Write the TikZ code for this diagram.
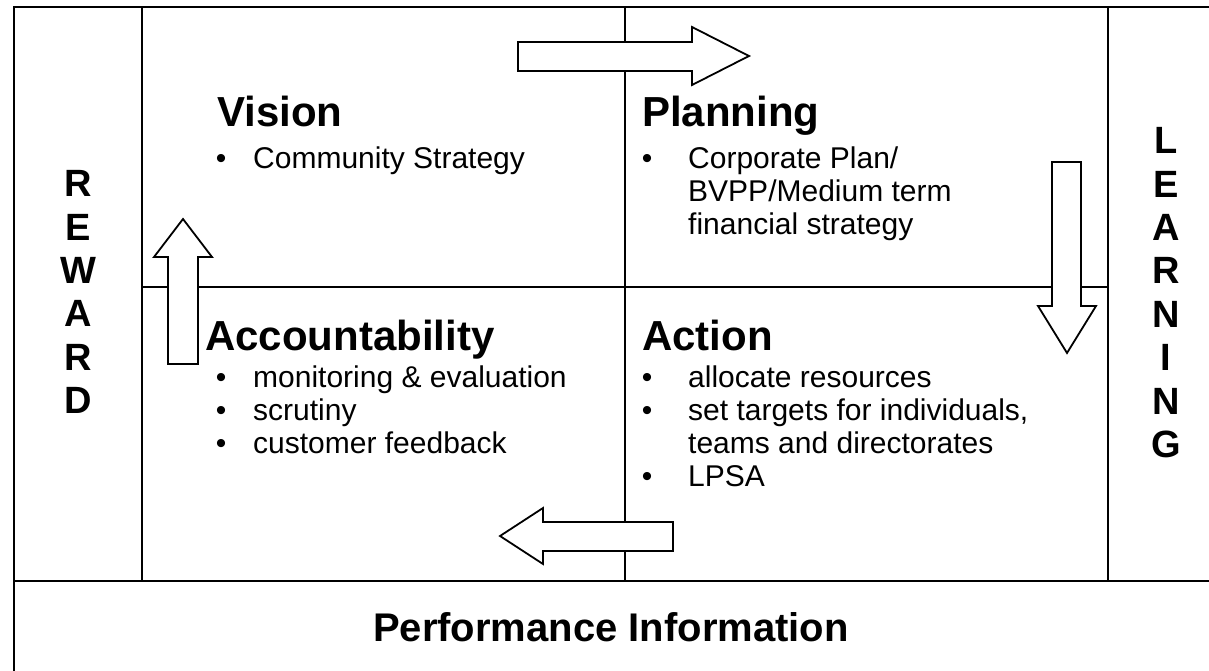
\documentclass[tikz,border=0pt]{standalone}
\usepackage{fontspec}
\setmainfont{Liberation Sans}
\begin{document}
\begin{tikzpicture}[x=1pt,y=-1pt,
  gridline/.style={line width=2.6pt,black},
  blockarrow/.style={draw=black,fill=white,line width=1.8pt,line join=miter},
  head/.style={anchor=base west,inner sep=0pt,font=\fontsize{42}{48}\selectfont\bfseries},
  side/.style={anchor=base,inner sep=0pt,font=\fontsize{38}{44}\selectfont\bfseries},
  bul/.style={anchor=base,inner sep=0pt,font=\fontsize{30}{33}\selectfont},
  item/.style={anchor=base west,inner sep=0pt,font=\fontsize{30}{33}\selectfont}]
\useasboundingbox (0,0) rectangle (1209,671);
\clip (0,0) rectangle (1209,671);
\fill[white] (0,0) rectangle (1209,671);
% frame and grid
\draw[gridline] (14,7) rectangle (1236,720);
\draw[gridline] (14,581) -- (1236,581);
\draw[gridline] (142,7) -- (142,581);
\draw[gridline] (1108,7) -- (1108,581);
\draw[gridline] (625,7) -- (625,581);
\draw[gridline] (142,287) -- (1108,287);
% block arrows
\draw[blockarrow] (518,42) -- (692,42) -- (692,27) -- (749,56) -- (692,85) -- (692,71) -- (518,71) -- cycle;
\draw[blockarrow] (1052,162) -- (1081,162) -- (1081,306) -- (1096,306) -- (1067,353) -- (1038,306) -- (1052,306) -- cycle;
\draw[blockarrow] (673,522) -- (543,522) -- (543,508) -- (500,536) -- (543,564) -- (543,551) -- (673,551) -- cycle;
\draw[blockarrow] (168,364) -- (168,257) -- (154,257) -- (183,219) -- (212,257) -- (198,257) -- (198,364) -- cycle;
% Vision
\node[head] (vision) at (217,127) {Vision};
\node[bul] (vb1) at (221,168) {•};
\node[item] (vt1) at (253,168) {Community Strategy};
% Planning
\node[head] (planning) at (642,127) {Planning};
\node[bul] (pb1) at (647,168) {•};
\node[item] (pt1) at (688,168) {Corporate Plan/};
\node[item] (pt2) at (688,201) {BVPP/Medium term};
\node[item] (pt3) at (688,234) {financial strategy};
% Accountability
\node[head] (account) at (205,350) {Accountability};
\node[bul] (ab1) at (221,387) {•};
\node[item] (at1) at (253,387) {monitoring \& evaluation};
\node[bul] (ab2) at (221,420) {•};
\node[item] (at2) at (253,420) {scrutiny};
\node[bul] (ab3) at (221,453) {•};
\node[item] (at3) at (253,453) {customer feedback};
% Action
\node[head] (action) at (642,350) {Action};
\node[bul] (cb1) at (647,387) {•};
\node[item] (ct1) at (688,387) {allocate resources};
\node[bul] (cb2) at (647,420) {•};
\node[item] (ct2) at (688,420) {set targets for individuals,};
\node[item] (ct3) at (688,453) {teams and directorates};
\node[bul] (cb3) at (647,486) {•};
\node[item] (ct4) at (688,486) {LPSA};
% side words
\foreach \l [count=\i] in {R,E,W,A,R,D}
  \node[side] (rw\i) at (78,{196.6+43.4*(\i-1)}) {\l};
\foreach \l [count=\i] in {L,E,A,R,N,I,N,G}
  \node[side] (ln\i) at (1166,{153.6+43.4*(\i-1)}) {\l};
% bottom
\node[anchor=base,inner sep=0pt,font=\fontsize{40}{46}\selectfont\bfseries] (perf) at (611,641) {Performance Information};
\end{tikzpicture}
\end{document}
